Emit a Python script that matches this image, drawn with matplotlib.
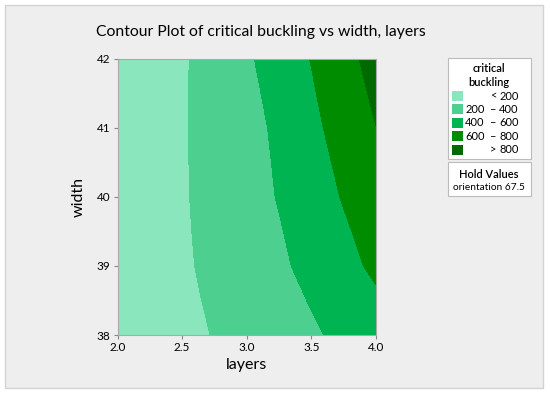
import numpy as np
import matplotlib
matplotlib.use("Agg")
import matplotlib.pyplot as plt
from matplotlib.patches import Rectangle

# contour grid (critical buckling at layers x width)
layers = [2.0, 2.25, 2.5, 2.75, 3.0, 3.25, 3.5, 3.75, 4.0]
widths = [38, 38.5, 39, 39.5, 40, 41, 42]
buckling = [
    [56, 104, 154, 207, 264, 318, 376, 439, 505],   # width 38
    [57, 109, 165, 223, 278, 342, 410, 485, 570],   # width 38.5
    [63, 118, 176, 238, 304, 370, 450, 543, 636],   # width 39
    [56, 116, 180, 247, 310, 388, 477, 575, 674],   # width 39.5
    [59, 119, 184, 253, 328, 410, 508, 613, 726],   # width 40
    [50, 115, 185, 264, 342, 432, 556, 676, 798],   # width 41
    [21, 96, 180, 272, 374, 485, 607, 736, 875],    # width 42
]
levels = [0, 200, 400, 600, 800, 1000]
band_colors = ["#8AE6BD", "#4DCF8F", "#00B451", "#008C00", "#006A00"]

legend_lo = ["", "200", "400", "600", ""]
legend_sym = ["<", "–", "–", "–", ">"]
legend_hi = ["200", "400", "600", "800", "800"]
hold_name = "orientation"
hold_value = "67.5"

plt.rcParams['font.family'] = ['Lato', 'DejaVu Sans']

W, H = 550, 396
fig = plt.figure(figsize=(W / 100, H / 100), dpi=100)
fig.patch.set_facecolor("white")


def fx(x):
    return x / W


def fy(y):
    return 1 - y / H


# gray panel
fig.patches.append(Rectangle((fx(5), fy(388)), fx(538), 383 / H, transform=fig.transFigure,
                             facecolor="#EEEEEE", edgecolor="#D2D2D2", lw=1, zorder=-5))

ax = fig.add_axes([fx(117.5), fy(335), fx(376 - 117.5), (335 - 58.5) / H])
ax.set_zorder(2)
ax.contourf(layers, widths, np.array(buckling), levels=levels, colors=band_colors)
ax.set_xlim(2.0, 4.0)
ax.set_ylim(38, 42)
ax.set_xticks([2.0, 2.5, 3.0, 3.5, 4.0])
ax.set_xticklabels(["2.0", "2.5", "3.0", "3.5", "4.0"])
ax.set_yticks([38, 39, 40, 41, 42])
ax.tick_params(labelsize=8.5, length=3, color="#888888", pad=2)
for s in ax.spines.values():
    s.set_color("#AAAAAA")
ax.set_xlabel("layers", fontsize=11.5, labelpad=4)
ax.set_ylabel("width", fontsize=11.5, labelpad=8)

fig.text(fx(261), fy(32), "Contour Plot of critical buckling vs width, layers",
         ha="center", va="center", fontsize=11.3)

# legend box
fig.patches.append(Rectangle((fx(448), fy(159)), fx(83), (159 - 58) / H, transform=fig.transFigure,
                             facecolor="white", edgecolor="#BBBBBB", lw=0.8, zorder=1))
fig.text(fx(489), fy(69), "critical", ha="center", va="center", fontsize=8, fontweight="semibold")
fig.text(fx(489), fy(82.5), "buckling", ha="center", va="center", fontsize=8, fontweight="semibold")
for i, c in enumerate(band_colors):
    yc = 96 + i * 13.4
    fig.patches.append(Rectangle((fx(452), fy(yc + 5)), fx(11), 10 / H, transform=fig.transFigure,
                                 facecolor=c, edgecolor="none", zorder=2))
    fig.text(fx(484.5), fy(yc), legend_lo[i], ha="right", va="center", fontsize=8)
    fig.text(fx(493), fy(yc), legend_sym[i], ha="center", va="center", fontsize=8)
    fig.text(fx(518.5), fy(yc), legend_hi[i], ha="right", va="center", fontsize=8)

# hold values box
fig.patches.append(Rectangle((fx(448), fy(196)), fx(83), 34 / H, transform=fig.transFigure,
                             facecolor="white", edgecolor="#BBBBBB", lw=0.8, zorder=1))
fig.text(fx(489), fy(174), "Hold Values", ha="center", va="center", fontsize=8, fontweight="semibold")
fig.text(fx(489), fy(187), hold_name + " " + hold_value, ha="center", va="center", fontsize=7.3)

fig.savefig("out.png", dpi=100)
